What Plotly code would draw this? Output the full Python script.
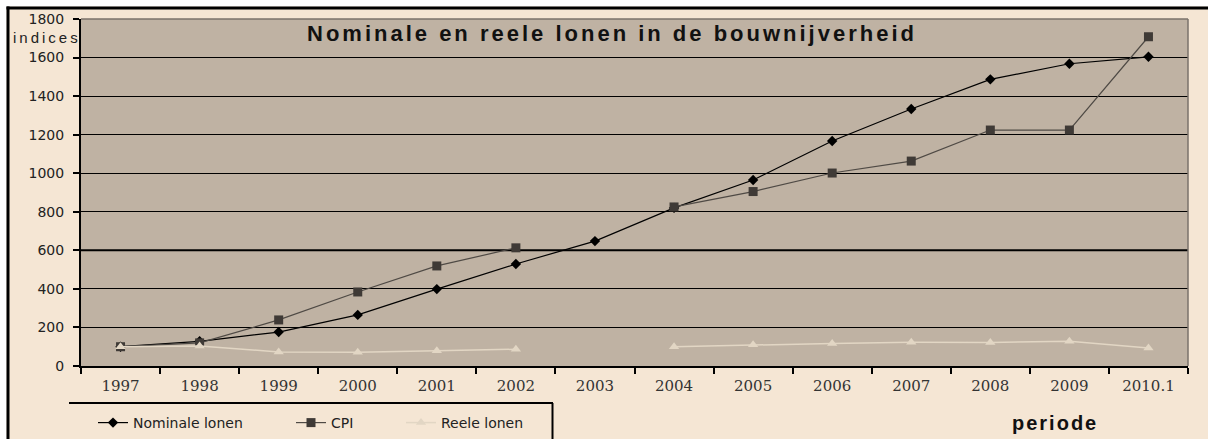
import plotly.graph_objects as go

periods = ["1997", "1998", "1999", "2000", "2001", "2002", "2003",
           "2004", "2005", "2006", "2007", "2008", "2009", "2010.1"]
nominale = [100, 128, 176, 265, 399, 529, 648, 820, 965, 1167, 1333, 1487, 1568, 1604]
cpi = [100, 120, 239, 384, 519, 613, None, 825, 905, 1001, 1063, 1224, 1224, 1708]
reele = [100, 104, 73, 71, 79, 87, None, 100, 110, 117, 123, 122, 128, 93]
y_ticks = [0, 200, 400, 600, 800, 1000, 1200, 1400, 1600, 1800]

W, H = 1208, 439
PL, PR, PT, PB = 81, 1188, 19, 366  # plot area in pixels
L, R, T, B = PL, W - PR, PT, H - PB
pw, ph = PR - PL, PB - PT


def px(x):
    return (x - PL) / pw


def py(y):
    return (PB - y) / ph


PAPER = "#F5E6D4"
PLOT = "#BFB2A3"

fig = go.Figure()
fig.add_trace(go.Scatter(
    x=periods, y=nominale, name="Nominale lonen", mode="lines+markers",
    line=dict(color="#000000", width=1.2),
    marker=dict(symbol="diamond", size=8, color="#000000"),
    legend="legend"))
fig.add_trace(go.Scatter(
    x=periods, y=cpi, name="CPI", mode="lines+markers",
    line=dict(color="#4f4a45", width=1.2),
    marker=dict(symbol="square", size=9, color="#3f3a36"),
    connectgaps=False, legend="legend2"))
fig.add_trace(go.Scatter(
    x=periods, y=reele, name="Reele lonen", mode="lines+markers",
    line=dict(color="#E2D6C4", width=1.5),
    marker=dict(symbol="triangle-up", size=9, color="#E2D6C4"),
    connectgaps=False, legend="legend3"))

legend_common = dict(orientation="h", bgcolor="rgba(0,0,0,0)",
                     font=dict(family="DejaVu Sans", size=14, color="#222"),
                     xanchor="left", yanchor="middle", borderwidth=0)

shapes = [
    # white margins at top and left
    dict(type="rect", xref="paper", yref="paper", x0=px(-2), x1=px(W + 2), y0=py(6.5), y1=py(-2),
         fillcolor="white", line_width=0, layer="above"),
    dict(type="rect", xref="paper", yref="paper", x0=px(-2), x1=px(6.5), y0=py(H + 2), y1=py(-2),
         fillcolor="white", line_width=0, layer="above"),
    # black frame lines
    dict(type="line", xref="paper", yref="paper", x0=px(6.5), x1=px(W + 2), y0=py(8), y1=py(8),
         line=dict(color="black", width=3), layer="above"),
    dict(type="line", xref="paper", yref="paper", x0=px(8), x1=px(8), y0=py(6.5), y1=py(H + 2),
         line=dict(color="black", width=3), layer="above"),
    # plot frame (top, right)
    dict(type="line", xref="paper", yref="paper", x0=0, x1=1, y0=1, y1=1,
         line=dict(color="#7a726b", width=1.5), layer="above"),
    dict(type="line", xref="paper", yref="paper", x0=1, x1=1, y0=0, y1=1,
         line=dict(color="#7a726b", width=1.5), layer="above"),
    # legend box
    dict(type="line", xref="paper", yref="paper", x0=px(69), x1=px(553), y0=py(403), y1=py(403),
         line=dict(color="black", width=2), layer="above"),
    dict(type="line", xref="paper", yref="paper", x0=px(552.5), x1=px(552.5), y0=py(403), y1=py(H + 2),
         line=dict(color="black", width=2), layer="above"),
    # emphasized gridline at 600
    dict(type="line", xref="paper", yref="y", x0=0, x1=1, y0=600, y1=600,
         line=dict(color="black", width=2), layer="below"),
]

annotations = [
    dict(text='<span style="letter-spacing:3px"><b>Nominale en reele lonen in de bouwnijverheid</b></span>',
         xref="paper", yref="paper",
         x=px(612), y=py(33), xanchor="center", yanchor="middle", showarrow=False,
         font=dict(family="Liberation Sans, Arial", size=22, color="#111")),
    dict(text='<span style="letter-spacing:3px">indices</span>', xref="paper", yref="paper",
         x=px(11), y=py(38), xanchor="left", yanchor="middle", showarrow=False,
         font=dict(family="Liberation Sans, Arial", size=15, color="#222")),
    dict(text='<span style="letter-spacing:2px"><b>periode</b></span>', xref="paper", yref="paper",
         x=px(1010), y=py(423), xanchor="left", yanchor="middle", showarrow=False,
         font=dict(family="Liberation Sans, Arial", size=20, color="#111")),
]

fig.update_layout(
    width=W, height=H,
    margin=dict(l=L, r=R, t=T, b=B, autoexpand=False),
    paper_bgcolor=PAPER, plot_bgcolor=PLOT,
    showlegend=True,
    legend=dict(x=px(93), y=py(423), **legend_common),
    legend2=dict(x=px(291), y=py(423), **legend_common),
    legend3=dict(x=px(401), y=py(423), **legend_common),
    shapes=shapes, annotations=annotations,
    xaxis=dict(type="category", categoryorder="array", categoryarray=periods,
               range=[-0.5, len(periods) - 0.5], tickson="boundaries",
               ticks="outside", ticklen=6, tickcolor="black", tickwidth=2,
               showline=True, linecolor="black", linewidth=2, showgrid=False,
               tickfont=dict(family="DejaVu Serif", size=15, color="#333"),
               ticklabelstandoff=5, fixedrange=True, automargin=False),
    yaxis=dict(range=[0, 1800], tickvals=y_ticks, ticktext=[str(v) for v in y_ticks],
               ticks="outside", ticklen=6, tickcolor="black", tickwidth=2,
               showline=True, linecolor="black", linewidth=2,
               showgrid=True, gridcolor="black", gridwidth=1, zeroline=False,
               tickfont=dict(family="DejaVu Sans", size=14, color="#222"),
               ticklabelstandoff=6, fixedrange=True, automargin=False),
)

fig.write_html(
    "out.html",
    config={"displayModeBar": False},
    post_script="document.body.style.margin='0';document.body.style.overflow='hidden';",
)
